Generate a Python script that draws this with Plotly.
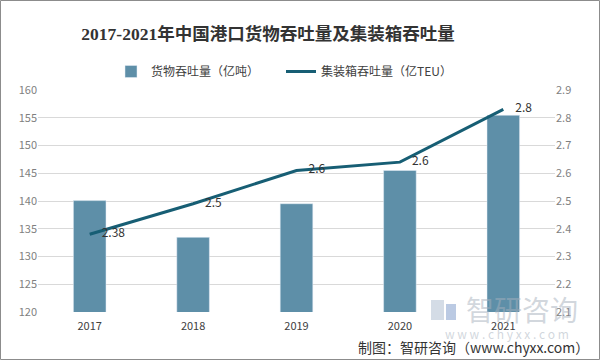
import plotly.graph_objects as go

years = ["2017", "2018", "2019", "2020", "2021"]
cargo = [140.07, 133.45, 139.51, 145.50, 155.45]
container = [2.38, 2.49, 2.61, 2.64, 2.83]
container_labels = ["2.38", "2.5", "2.6", "2.6", "2.8"]

title = "2017-2021年中国港口货物吞吐量及集装箱吞吐量"
cargo_name = "货物吞吐量（亿吨）"
container_name = "集装箱吞吐量（亿TEU）"
source = "制图：智研咨询（www.chyxx.com）"

W, H = 600, 360
L, R, T, B = 38, 45, 90, 48
PW, PH = W - L - R, H - T - B

def px(x):
    return (x - L) / PW

def py(y):
    return (H - B - y) / PH

cjk = "Noto Sans CJK SC, sans-serif"

fig = go.Figure()
fig.add_trace(go.Bar(
    x=years, y=cargo, name=cargo_name,
    marker=dict(color="#5E8FA8"), width=0.315,
))
fig.add_trace(go.Scatter(
    x=years, y=container, name=container_name, yaxis="y2",
    mode="lines+text", text=container_labels, textposition="middle right",
    texttemplate="\u2003%{text}",
    textfont=dict(size=12, color="#333333", family=cjk),
    line=dict(color="#175E74", width=3),
))

fig.update_layout(
    width=W, height=H,
    margin=dict(l=L, r=R, t=T, b=B),
    paper_bgcolor="white", plot_bgcolor="white",
    font=dict(family=cjk, color="#595959"),
    title=dict(
        text="<b>" + title + "</b>",
        x=268 / W, xanchor="center", y=1 - 34 / H, yanchor="middle",
        font=dict(size=17.5, color="#333333", family="Liberation Serif, Noto Sans CJK SC, serif"),
    ),
    legend=dict(
        orientation="h", x=px(111), y=py(57), xanchor="left", yanchor="top",
        font=dict(size=12, color="#404040"), entrywidth=125,
        bgcolor="rgba(0,0,0,0)",
    ),
    xaxis=dict(
        type="category", showgrid=False, showline=False, ticks="",
        tickfont=dict(size=11, color="#404040"), ticklabelstandoff=6,
    ),
    yaxis=dict(
        range=[120, 160], dtick=5, showgrid=True, gridcolor="#D9D9D9",
        zeroline=False, showline=False, ticks="",
        tickfont=dict(size=11, color="#7F7F7F"),
    ),
    yaxis2=dict(
        range=[2.1, 2.9], dtick=0.1, overlaying="y", side="right",
        showgrid=False, zeroline=False, showline=False, ticks="",
        tickformat=".1f", tickfont=dict(size=11, color="#7F7F7F"),
    ),
    bargap=0.685,
)

wm = "rgba(165,175,188,0.5)"
# watermark
fig.add_annotation(
    text="智研咨询", x=px(522), y=py(309), xref="paper", yref="paper",
    xanchor="center", yanchor="middle",
    showarrow=False, font=dict(size=28, color=wm, family=cjk),
)
fig.add_annotation(
    text="w w w . c h y x x . c o m", x=px(507), y=py(333), xref="paper", yref="paper",
    xanchor="center", yanchor="middle",
    showarrow=False, font=dict(size=12, color=wm, family=cjk),
)
fig.add_shape(type="rect", xref="paper", yref="paper",
              x0=px(431), x1=px(444), y0=py(320), y1=py(300),
              fillcolor="rgba(170,185,205,0.5)", line=dict(width=0))
fig.add_shape(type="rect", xref="paper", yref="paper",
              x0=px(446), x1=px(456), y0=py(320), y1=py(304),
              fillcolor="rgba(120,150,200,0.5)", line=dict(width=0))
# source
fig.add_annotation(
    text=source, x=px(591), y=py(347), xref="paper", yref="paper",
    xanchor="right", yanchor="middle", showarrow=False,
    font=dict(size=14, color="#333333", family=cjk),
)
# border
fig.add_shape(type="rect", xref="paper", yref="paper",
              x0=px(0.5), x1=px(599.5), y0=py(359.5), y1=py(0.5),
              line=dict(color="#8C8C8C", width=1), fillcolor="rgba(0,0,0,0)")

fig.write_html("out.html", config={"displayModeBar": False},
               post_script="document.body.style.margin='0px';")
